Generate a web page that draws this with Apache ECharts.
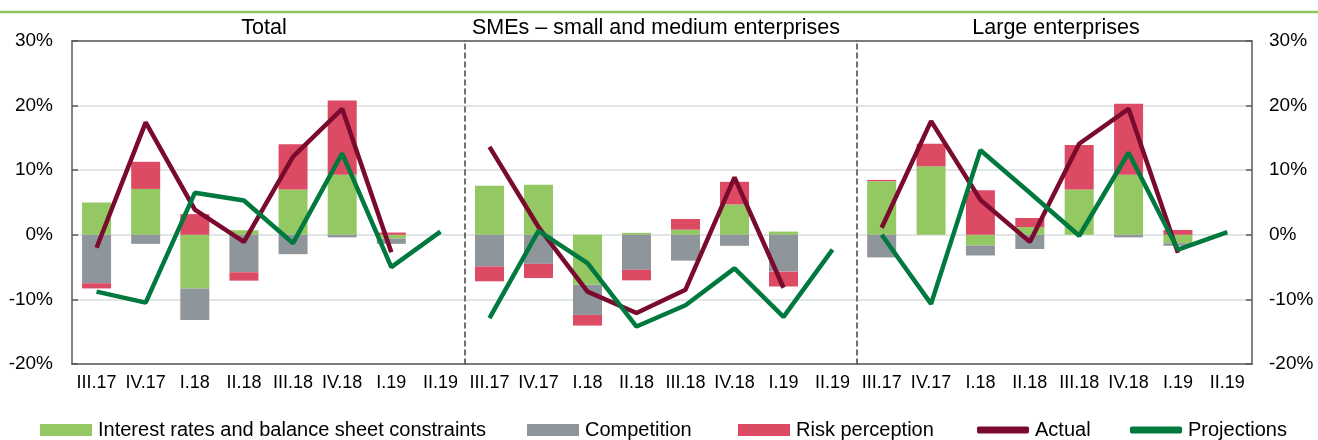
<!DOCTYPE html>
<html><head><meta charset="utf-8">
<script src="https://cdn.jsdelivr.net/npm/echarts@6/dist/echarts.min.js"></script>
<style>html,body{margin:0;padding:0;background:#fff}#c{width:1318px;height:440px}</style>
</head><body><div id="c"></div>
<script>
// ---- data ----
const categories = ['III.17','IV.17','I.18','II.18','III.18','IV.18','I.19','II.19'];
const panelTitles = ['Total','SMEs \u2013 small and medium enterprises','Large enterprises'];
const seriesNames = ['Interest rates and balance sheet constraints','Competition','Risk perception','Actual','Projections'];
const yMin = -20, yMax = 30, yStep = 10;

const totalInterest    = [5.0, 7.1, -8.3, 0.7, 7.0, 9.3, -0.6, null];
const totalCompetition = [-7.5, -1.4, -4.9, -5.8, -3.0, -0.4, -0.8, null];
const totalRisk        = [-0.8, 4.2, 3.2, -1.3, 7.0, 11.5, 0.35, null];
const totalActual      = [-2.0, 17.4, 3.9, -1.1, 12.1, 19.5, -2.7, null];
const totalProjections = [-8.8, -10.5, 6.5, 5.3, -1.3, 12.6, -5.0, 0.5];

const smeInterest    = [7.6, 7.75, -7.75, 0.3, 0.8, 4.7, 0.5, null];
const smeCompetition = [-4.9, -4.5, -4.65, -5.4, -4.0, -1.7, -5.7, null];
const smeRisk        = [-2.3, -2.2, -1.65, -1.65, 1.65, 3.5, -2.3, null];
const smeActual      = [13.6, 1.2, -8.8, -12.1, -8.5, 8.9, -8.2, null];
const smeProjections = [-12.9, 0.6, -4.4, -14.2, -10.9, -5.2, -12.7, -2.3];

const largeInterest    = [8.3, 10.6, -1.65, 1.2, 7.0, 9.3, -1.3, null];
const largeCompetition = [-3.5, 0, -1.55, -2.2, 0, -0.4, -0.4, null];
const largeRisk        = [0.2, 3.5, 6.9, 1.4, 6.9, 11.0, 0.75, null];
const largeActual      = [1.1, 17.6, 5.4, -1.1, 14.1, 19.5, -2.8, null];
const largeProjections = [0.0, -10.7, 13.1, 6.5, -0.15, 12.7, -2.3, 0.4];

// ---- styling ----
const colors = ['#93C862', '#8E969C', '#DC4A63', '#7A0A2E', '#00793F'];
const FONT = '"Liberation Sans", Arial, sans-serif';
const frameColor = '#595959';
const gridColor = '#D9DDDD';

const panels = [
  [totalInterest, totalCompetition, totalRisk, totalActual, totalProjections],
  [smeInterest, smeCompetition, smeRisk, smeActual, smeProjections],
  [largeInterest, largeCompetition, largeRisk, largeActual, largeProjections]
];
const gridLefts = [72, 465, 857];
const gridWidths = [393, 392, 395];
const titleCenters = [264, 656, 1056];

const grids = [], xAxes = [], yAxes = [], series = [], titles = [];
panels.forEach((p, i) => {
  grids.push({left: gridLefts[i], width: gridWidths[i], top: 41, height: 323, containLabel: false});
  xAxes.push({
    type: 'category', gridIndex: i, data: categories, position: 'bottom',
    axisLine: {onZero: false, lineStyle: {color: frameColor, width: 1.5}},
    axisTick: {show: false},
    axisLabel: {color: '#000', fontSize: 18, fontFamily: FONT, margin: 10, interval: 0},
    splitLine: {show: false}
  });
  xAxes.push({
    type: 'category', gridIndex: i, data: categories, position: 'top',
    axisLine: {onZero: false, lineStyle: {color: frameColor, width: 1.5}},
    axisTick: {show: false}, axisLabel: {show: false}, splitLine: {show: false}
  });
  const yIdx = yAxes.length;
  yAxes.push({
    type: 'value', gridIndex: i, min: yMin, max: yMax, interval: yStep, position: 'left',
    axisLine: {show: true, lineStyle: i === 0 ? {color: frameColor, width: 1.5} : {color: '#444', width: 1.5, type: [5, 4]}},
    axisTick: {show: i === 0, inside: true, length: 6, lineStyle: {color: frameColor, width: 1.5}},
    axisLabel: {show: i === 0, formatter: '{value}%', color: '#000', fontSize: 19, fontFamily: FONT, margin: 19},
    splitLine: {show: true, lineStyle: {color: gridColor, width: 1.5}}
  });
  if (i === 2) {
    yAxes.push({
      type: 'value', gridIndex: i, min: yMin, max: yMax, interval: yStep, position: 'right',
      axisLine: {show: true, lineStyle: {color: frameColor, width: 1.5}},
      axisTick: {show: true, inside: true, length: 6, lineStyle: {color: frameColor, width: 1.5}},
      axisLabel: {formatter: '{value}%', color: '#000', fontSize: 19, fontFamily: FONT, margin: 17},
      splitLine: {show: false}
    });
  }
  titles.push({
    text: panelTitles[i], left: titleCenters[i], top: 17, textAlign: 'center', padding: 0,
    textStyle: {color: '#000', fontSize: 21.5, fontWeight: 'normal', fontFamily: FONT}
  });
  for (let k = 0; k < 3; k++) {
    series.push({
      name: seriesNames[k], type: 'bar', stack: 'panel' + i, xAxisIndex: i * 2, yAxisIndex: yIdx,
      data: p[k], barWidth: 29, itemStyle: {color: colors[k]}, z: 2
    });
  }
  for (let k = 3; k < 5; k++) {
    series.push({
      name: seriesNames[k], type: 'line', xAxisIndex: i * 2, yAxisIndex: yIdx,
      data: p[k], symbol: 'none', connectNulls: false, z: 3 + k,
      lineStyle: {color: colors[k], width: 4.5}, itemStyle: {color: colors[k]}
    });
  }
});

const legendLefts = [40, 527, 738, 977, 1130];
const legends = seriesNames.map((n, k) => ({
  left: legendLefts[k], top: 420, orient: 'horizontal', padding: 0,
  itemWidth: 52, itemHeight: k < 3 ? 12 : 7, itemGap: 0,
  data: [{name: n, icon: k < 3 ? 'rect' : 'roundRect'}],
  textStyle: {color: '#000', fontSize: 20, fontFamily: FONT, padding: [0, 0, 0, 1]},
  selectedMode: false
}));

const chart = echarts.init(document.getElementById('c'), null, {renderer: 'canvas'});
chart.setOption({
  animation: false,
  backgroundColor: '#fff',
  title: titles,
  grid: grids,
  xAxis: xAxes,
  yAxis: yAxes,
  legend: legends,
  series: series,
  graphic: [{
    type: 'line', shape: {x1: 0, y1: 12, x2: 1318, y2: 12},
    style: {stroke: '#8DC45E', lineWidth: 2.5}, silent: true
  }]
});
</script></body></html>
